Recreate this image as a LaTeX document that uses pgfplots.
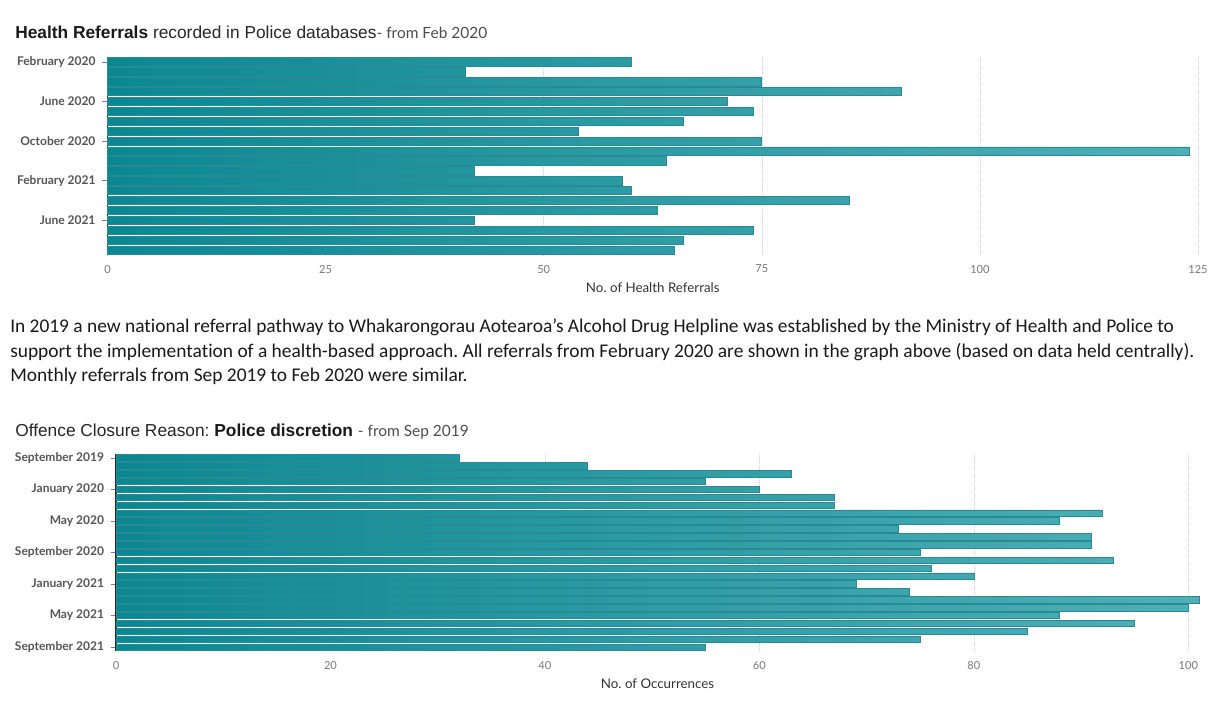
\documentclass[border=0pt]{standalone}
\usepackage{pgfplots}
\pgfplotsset{compat=1.18}
\usepackage{fontspec}
\setmainfont{Liberation Sans}
\newfontfamily\carfont[Ligatures=NoCommon]{Carlito}
\newfontfamily\avfont{Lato}
\definecolor{tealdark}{HTML}{0A8892}
\definecolor{teallight}{HTML}{50B0B7}
\definecolor{barline}{HTML}{2A8A93}
\definecolor{lblgray}{HTML}{555555}
\definecolor{numgray}{HTML}{777777}
\frenchspacing
\begin{document}
\begin{tikzpicture}
\path[use as bounding box] (0,0) rectangle (912pt,-531pt);
\pgfplotsset{
  barstyle/.style={
    axis lines*=left,
    x axis line style={draw=none},
    y axis line style={draw=black!85, line width=0.8pt},
    y dir=reverse,
    scale only axis,
    xmajorgrids,
    grid style={densely dotted, gray!35},
    xtick style={draw=none},
    ytick style={draw=gray, line width=0.6pt},
    tick align=outside,
    major tick length=4pt,
    /pgf/number format/assume math mode=true,
    xticklabel style={font=\avfont\fontsize{8.3}{10}\selectfont, text=numgray},
    yticklabel style={font=\avfont\fontsize{9}{10}\selectfont\bfseries, text=lblgray, xshift=-1.5pt},
    xlabel style={font=\avfont\fontsize{10}{12}\selectfont, text=black!80},
    clip=false,
  }
}
% Top chart
\begin{axis}[barstyle,
  at={(107.5*0.75pt,-57*0.75pt)}, anchor=north west,
  width=1090.5*0.75pt, height=198*0.75pt,
  xmin=0, xmax=125, ymin=-0.5, ymax=19.5,
  xtick={0,25,50,75,100,125},
  ytick={0,4,8,12,16},
  yticklabels={February 2020,June 2020,October 2020,February 2021,June 2021},
  xlabel={No.\ of Health Referrals},
]
\addplot[xbar, bar width=6.2pt, draw=barline, line width=0.5pt, left color=tealdark, right color=teallight]
coordinates {(60,0) (41,1) (75,2) (91,3) (71,4) (74,5) (66,6) (54,7) (75,8) (124,9)
(64,10) (42,11) (59,12) (60,13) (85,14) (63,15) (42,16) (74,17) (66,18) (65,19)};
\end{axis}
% Bottom chart
\begin{axis}[barstyle,
  at={(116*0.75pt,-454*0.75pt)}, anchor=north west,
  width=1083*0.75pt, height=197*0.75pt,
  xmin=0, xmax=101, ymin=-0.5, ymax=24.5,
  xtick={0,20,40,60,80,100},
  ytick={0,4,8,12,16,20,24},
  yticklabels={September 2019,January 2020,May 2020,September 2020,January 2021,May 2021,September 2021},
  xlabel={No.\ of Occurrences},
]
\addplot[xbar, bar width=4.85pt, draw=barline, line width=0.5pt, left color=tealdark, right color=teallight]
coordinates {(32,0) (44,1) (63,2) (55,3) (60,4) (67,5) (67,6) (92,7) (88,8) (73,9)
(91,10) (91,11) (75,12) (93,13) (76,14) (80,15) (69,16) (74,17) (101,18) (100,19)
(88,20) (95,21) (85,22) (75,23) (55,24)};
\end{axis}
% Titles
\node[anchor=base west, inner sep=0pt] at (15*0.75pt,-38.5*0.75pt)
  {\fontsize{13}{15}\selectfont\textcolor{black!90}{\bfseries Health Referrals} \textcolor{black!85}{recorded in Police databases}{\avfont\fontsize{11.6}{13}\selectfont\textcolor{black!70}{- from Feb 2020}}};
\node[anchor=base west, inner sep=0pt] at (15*0.75pt,-436*0.75pt)
  {\fontsize{13}{15}\selectfont\textcolor{black!85}{Offence Closure Reason: }\textcolor{black!90}{\bfseries Police discretion} {\avfont\fontsize{11.6}{13}\selectfont\textcolor{black!70}{- from Sep 2019}}};
% Paragraph
\begin{scope}[every node/.style={anchor=base west, inner sep=0pt, font=\carfont\fontsize{14.55}{17}\selectfont, text=black!90}]
\node at (10*0.75pt,-332*0.75pt) {In 2019 a new national referral pathway to Whakarongorau Aotearoa’s Alcohol Drug Helpline was established by the Ministry of Health and Police to};
\node at (10*0.75pt,-357*0.75pt) {support the implementation of a health-based approach. All referrals from February 2020 are shown in the graph above (based on data held centrally).};
\node at (10*0.75pt,-381*0.75pt) {Monthly referrals from Sep 2019 to Feb 2020 were similar.};
\end{scope}
\end{tikzpicture}
\end{document}
